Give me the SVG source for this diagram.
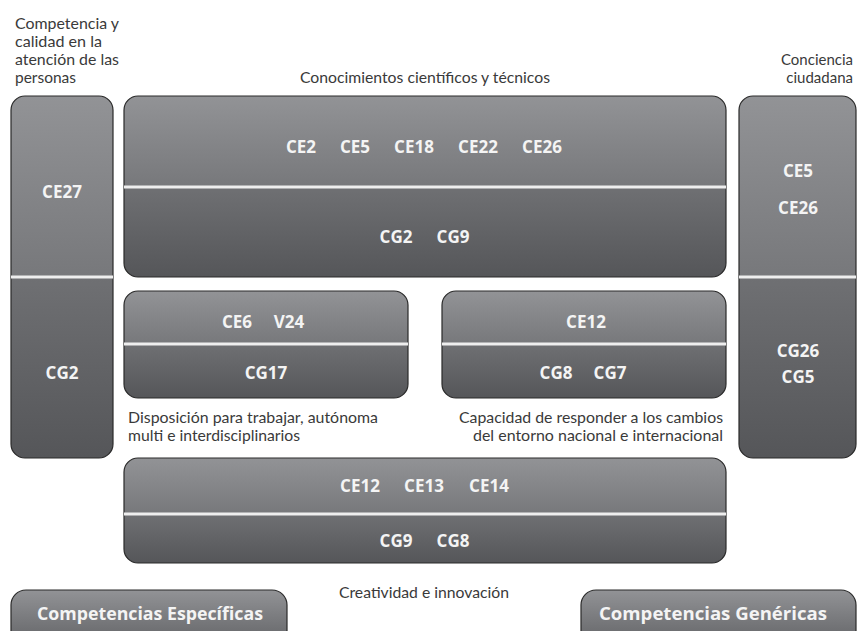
<svg xmlns="http://www.w3.org/2000/svg" width="857" height="631" viewBox="0 0 857 631">
<defs>
<linearGradient id="gU" x1="0" y1="0" x2="0" y2="1"><stop offset="0" stop-color="#929396"/><stop offset="1" stop-color="#77787b"/></linearGradient>
<linearGradient id="gL" x1="0" y1="0" x2="0" y2="1"><stop offset="0" stop-color="#6f7073"/><stop offset="1" stop-color="#555659"/></linearGradient>
<linearGradient id="gP" x1="0" y1="0" x2="0" y2="1"><stop offset="0" stop-color="#929396"/><stop offset="1" stop-color="#5e5f62"/></linearGradient>
<style>
.up{fill:url(#gU);}
.lo{fill:url(#gL);}
.ol{fill:none;stroke:#2a2a2a;stroke-width:1.2;}
.dv{stroke:#eeeeee;stroke-width:3;}
.code{font-family:"Open Sans","Noto Sans","DejaVu Sans",sans-serif;font-weight:700;font-size:17px;fill:#f4f4f4;text-anchor:middle;}
.lab{font-family:Lato,"Open Sans","DejaVu Sans",sans-serif;font-weight:400;font-size:15px;fill:#3a3a3a;}
.pill{font-family:"Open Sans","Noto Sans","DejaVu Sans",sans-serif;font-weight:700;font-size:17.5px;fill:#f4f4f4;text-anchor:middle;}
</style>
</defs>

<g id="labels">
<text class="lab" x="15" y="29" textLength="104" lengthAdjust="spacingAndGlyphs">Competencia y</text>
<text class="lab" x="15" y="47" textLength="87" lengthAdjust="spacingAndGlyphs">calidad en la</text>
<text class="lab" x="15" y="65" textLength="104" lengthAdjust="spacingAndGlyphs">atención de las</text>
<text class="lab" x="15" y="83" textLength="61" lengthAdjust="spacingAndGlyphs">personas</text>
<text class="lab" x="300" y="83" textLength="250" lengthAdjust="spacingAndGlyphs">Conocimientos científicos y técnicos</text>
<text class="lab" x="853" y="65" text-anchor="end">Conciencia</text>
<text class="lab" x="853" y="83" text-anchor="end">ciudadana</text>
<text class="lab" x="128" y="423" textLength="250" lengthAdjust="spacingAndGlyphs">Disposición para trabajar, autónoma</text>
<text class="lab" x="128" y="441" textLength="172" lengthAdjust="spacingAndGlyphs">multi e interdisciplinarios</text>
<text class="lab" x="459" y="423" textLength="264" lengthAdjust="spacingAndGlyphs">Capacidad de responder a los cambios</text>
<text class="lab" x="473" y="441" textLength="250" lengthAdjust="spacingAndGlyphs">del entorno nacional e internacional</text>
<text class="lab" x="339" y="598" textLength="170" lengthAdjust="spacingAndGlyphs">Creatividad e innovación</text>
</g>

<g id="node-personas">
<path class="up" d="M11,277 V110 A14,14 0 0 1 25,96 H99 A14,14 0 0 1 113,110 V277 Z"/>
<path class="lo" d="M11,277 H113 V444 A14,14 0 0 1 99,458 H25 A14,14 0 0 1 11,444 Z"/>
<rect class="ol" x="11" y="96" width="102" height="362" rx="14"/>
<line class="dv" x1="11" y1="277" x2="113" y2="277"/>
<text class="code" x="62" y="198">CE27</text>
<text class="code" x="62" y="379">CG2</text>
</g>

<g id="node-conocimientos">
<path class="up" d="M124,187 V110 A14,14 0 0 1 138,96 H712 A14,14 0 0 1 726,110 V187 Z"/>
<path class="lo" d="M124,187 H726 V263 A14,14 0 0 1 712,277 H138 A14,14 0 0 1 124,263 Z"/>
<rect class="ol" x="124" y="96" width="602" height="181" rx="14"/>
<line class="dv" x1="124" y1="187" x2="726" y2="187"/>
<text class="code" x="301" y="153">CE2</text>
<text class="code" x="355" y="153">CE5</text>
<text class="code" x="414" y="153">CE18</text>
<text class="code" x="478" y="153">CE22</text>
<text class="code" x="542" y="153">CE26</text>
<text class="code" x="396" y="243">CG2</text>
<text class="code" x="453" y="243">CG9</text>
</g>

<g id="node-ciudadana">
<path class="up" d="M739,277 V110 A14,14 0 0 1 753,96 H842 A14,14 0 0 1 856,110 V277 Z"/>
<path class="lo" d="M739,277 H856 V444 A14,14 0 0 1 842,458 H753 A14,14 0 0 1 739,444 Z"/>
<rect class="ol" x="739" y="96" width="117" height="362" rx="14"/>
<line class="dv" x1="739" y1="277" x2="856" y2="277"/>
<text class="code" x="798" y="177">CE5</text>
<text class="code" x="798" y="214">CE26</text>
<text class="code" x="798" y="357">CG26</text>
<text class="code" x="798" y="383">CG5</text>
</g>

<g id="node-disposicion">
<path class="up" d="M124,344 V305 A14,14 0 0 1 138,291 H394 A14,14 0 0 1 408,305 V344 Z"/>
<path class="lo" d="M124,344 H408 V384 A14,14 0 0 1 394,398 H138 A14,14 0 0 1 124,384 Z"/>
<rect class="ol" x="124" y="291" width="284" height="107" rx="14"/>
<line class="dv" x1="124" y1="344" x2="408" y2="344"/>
<text class="code" x="237" y="328">CE6</text>
<text class="code" x="289" y="328">V24</text>
<text class="code" x="266" y="379">CG17</text>
</g>

<g id="node-capacidad">
<path class="up" d="M442,344 V305 A14,14 0 0 1 456,291 H712 A14,14 0 0 1 726,305 V344 Z"/>
<path class="lo" d="M442,344 H726 V384 A14,14 0 0 1 712,398 H456 A14,14 0 0 1 442,384 Z"/>
<rect class="ol" x="442" y="291" width="284" height="107" rx="14"/>
<line class="dv" x1="442" y1="344" x2="726" y2="344"/>
<text class="code" x="586" y="328">CE12</text>
<text class="code" x="556" y="379">CG8</text>
<text class="code" x="610" y="379">CG7</text>
</g>

<g id="node-creatividad">
<path class="up" d="M124,514 V472 A14,14 0 0 1 138,458 H712 A14,14 0 0 1 726,472 V514 Z"/>
<path class="lo" d="M124,514 H726 V549 A14,14 0 0 1 712,563 H138 A14,14 0 0 1 124,549 Z"/>
<rect class="ol" x="124" y="458" width="602" height="105" rx="14"/>
<line class="dv" x1="124" y1="514" x2="726" y2="514"/>
<text class="code" x="360" y="492">CE12</text>
<text class="code" x="424" y="492">CE13</text>
<text class="code" x="489" y="492">CE14</text>
<text class="code" x="396" y="547">CG9</text>
<text class="code" x="453" y="547">CG8</text>
</g>

<g id="legend-especificas">
<rect x="11" y="590" width="276" height="60" rx="15" fill="url(#gP)" stroke="#2a2a2a" stroke-width="1.2"/>
<text class="pill" x="150" y="620" textLength="226" lengthAdjust="spacingAndGlyphs">Competencias Específicas</text>
</g>

<g id="legend-genericas">
<rect x="581" y="590" width="275" height="60" rx="15" fill="url(#gP)" stroke="#2a2a2a" stroke-width="1.2"/>
<text class="pill" x="713" y="620" textLength="228" lengthAdjust="spacingAndGlyphs">Competencias Genéricas</text>
</g>

<g id="connectors"></g>
</svg>
